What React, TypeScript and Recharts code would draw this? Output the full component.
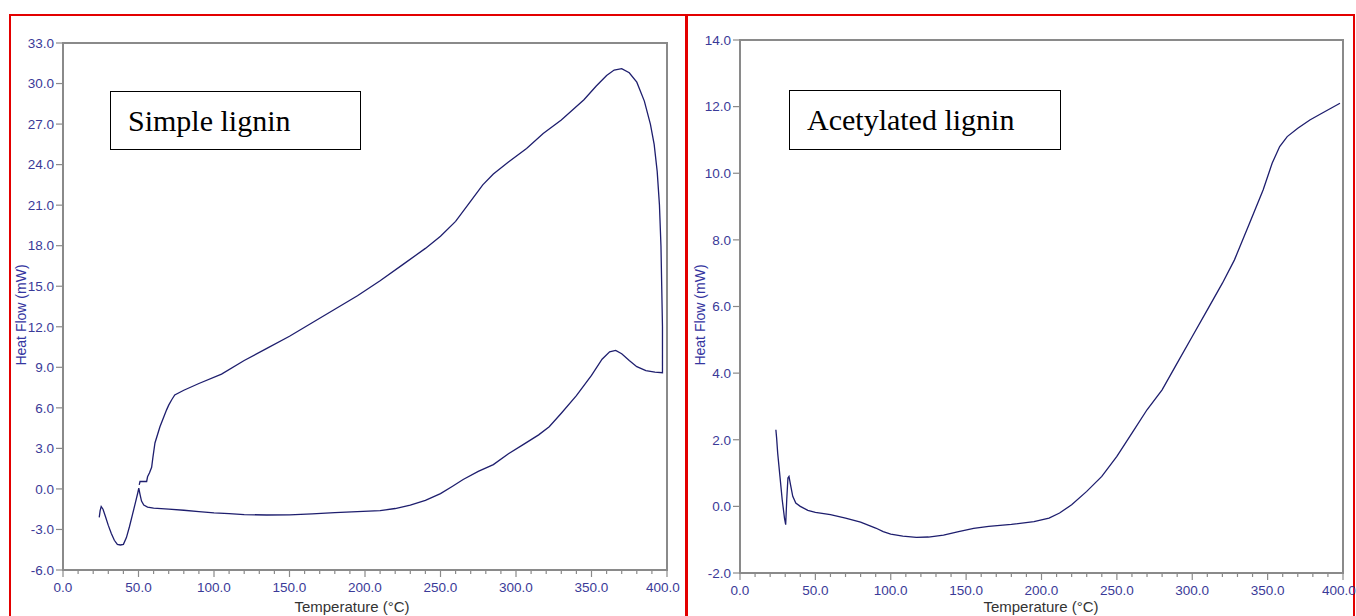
import { LineChart, Line, XAxis, YAxis, ReferenceArea } from 'recharts';

// Simple lignin DSC trace, in recorded order (heating branch, jump, return branch)
const simpleTemp = [
  24.0, 24.6, 25.3, 26.5, 28, 30, 32, 34, 36, 38, 40, 42, 44, 46, 48, 49.5, 50.2,
  51, 52, 53.5, 56, 60, 70, 80, 90, 100, 110, 120, 135, 150, 165, 180, 195, 210, 220, 230, 240, 250,
  258, 265, 275, 285, 295, 305, 315, 322, 330, 340, 350, 357, 362, 366, 370, 375, 380, 386, 392, 397,
  397, 396.5, 396, 395, 393.5, 391.5, 389, 385, 380, 375, 370, 365, 360, 353, 345, 330, 318, 307, 295,
  285, 278, 270, 260, 250, 240, 225, 210, 195, 180, 165, 150, 135, 120, 105, 90, 80, 74, 72, 70, 68.6,
  64.2, 60.9, 59.5, 58.7, 57.3, 56, 55.4, 53, 51, 50.5,
];
const simpleHeat = [
  -2.1, -1.6, -1.3, -1.5, -2.0, -2.7, -3.3, -3.8, -4.1, -4.15, -4.1, -3.6, -2.8, -1.9, -1.0, -0.3, 0.05,
  -0.4, -0.9, -1.2, -1.35, -1.42, -1.5, -1.58, -1.68, -1.77, -1.83, -1.9, -1.93, -1.92, -1.85, -1.75, -1.68, -1.6, -1.45, -1.2, -0.85, -0.35,
  0.2, 0.7, 1.3, 1.8, 2.6, 3.3, 4.0, 4.6, 5.6, 6.9, 8.4, 9.6, 10.15, 10.25, 10.0, 9.5, 9.05, 8.75, 8.65, 8.6,
  12, 15, 18, 21, 23.5, 25.5, 27, 28.7, 30.1, 30.8, 31.1, 31.0, 30.6, 29.8, 28.8, 27.3, 26.3, 25.2, 24.2,
  23.3, 22.5, 21.3, 19.8, 18.7, 17.8, 16.6, 15.4, 14.3, 13.3, 12.3, 11.3, 10.4, 9.5, 8.5, 7.8, 7.3, 6.95, 6.6, 6.2, 5.85,
  4.6, 3.4, 2.3, 1.6, 1.2, 0.9, 0.55, 0.55, 0.55, 0.3,
];

// Acetylated lignin DSC trace
const acetylTemp = [
  23.8, 24.3, 25, 26.5, 28, 29.5, 30.3, 31, 31.8, 32.5, 33.5, 35, 37, 40, 45, 50, 60, 70, 80, 90, 95,
  100, 108, 117, 125, 135, 145, 155, 165, 180, 195, 205, 212, 220, 230, 240, 250, 260, 270, 280, 290,
  300, 310, 320, 328, 338, 347, 353, 358, 363, 370, 378, 386, 392, 398,
];
const acetylHeat = [
  2.3, 2.05, 1.6, 0.9, 0.2, -0.35, -0.55, 0.2, 0.85, 0.9, 0.65, 0.3, 0.1, 0.0, -0.12, -0.18, -0.25, -0.35, -0.47, -0.65, -0.76,
  -0.83, -0.89, -0.93, -0.92, -0.86, -0.76, -0.66, -0.6, -0.54, -0.46, -0.35, -0.2, 0.05, 0.45, 0.9, 1.5, 2.2, 2.9, 3.5, 4.3,
  5.1, 5.9, 6.7, 7.4, 8.5, 9.5, 10.3, 10.8, 11.1, 11.35, 11.6, 11.8, 11.95, 12.1,
];

const xTicks = [
  0, 10, 20, 30, 40, 50, 60, 70, 80, 90, 100, 110, 120, 130, 140, 150, 160, 170, 180, 190, 200,
  210, 220, 230, 240, 250, 260, 270, 280, 290, 300, 310, 320, 330, 340, 350, 360, 370, 380, 390, 400,
];
const simpleYTicks = [-6, -3, 0, 3, 6, 9, 12, 15, 18, 21, 24, 27, 30, 33];
const acetylYTicks = [-2, 0, 2, 4, 6, 8, 10, 12, 14];

const simpleData = simpleTemp.map((t, i) => ({ t, v: simpleHeat[i] }));
const acetylData = acetylTemp.map((t, i) => ({ t, v: acetylHeat[i] }));

const LINE = '#1e1e6e';
const AXIS = '#8a8a8a';
const TICK = '#3a3a98';
const SANS = '"Liberation Sans", Arial, sans-serif';
const SERIF = '"Liberation Serif", "Times New Roman", serif';

function XTick(props: any) {
  const { x, y, payload } = props;
  const major = payload.value % 50 === 0;
  // last label sits right at the panel edge, nudge it in a little
  const dx = payload.value === 400 ? -4 : 0;
  return (
    <g>
      <line x1={x} x2={x} y1={y} y2={y + (major ? 7 : 4)} stroke={AXIS} strokeWidth={1.2} />
      {major && (
        <text x={x + dx} y={y + 22} textAnchor="middle" fill={TICK} fontSize={13.5} fontFamily={SANS}>
          {payload.value.toFixed(1)}
        </text>
      )}
    </g>
  );
}

interface PanelProps {
  data: { t: number; v: number }[];
  yTicks: number[];
  width: number;
  margin: { top: number; right: number; bottom: number; left: number };
}

function DscChart({ data, yTicks, width, margin }: PanelProps) {
  const yMin = yTicks[0];
  const yMax = yTicks[yTicks.length - 1];
  return (
    <LineChart width={width} height={616} margin={margin}>
      <XAxis
        type="number"
        dataKey="t"
        domain={[0, 400]}
        ticks={xTicks}
        interval={0}
        height={30}
        axisLine={false}
        tickLine={false}
        tickSize={0}
        tickMargin={0}
        tick={<XTick />}
      />
      <YAxis
        type="number"
        dataKey="v"
        domain={[yMin, yMax]}
        ticks={yTicks}
        interval={0}
        width={40}
        axisLine={false}
        tickLine={{ stroke: AXIS, strokeWidth: 1.2 }}
        tickSize={7}
        tickMargin={2}
        tickFormatter={(v: number) => v.toFixed(1)}
        tick={{ fontSize: 13.5, fill: TICK, fontFamily: SANS }}
      />
      <ReferenceArea
        x1={0}
        x2={400}
        y1={yMin}
        y2={yMax}
        fill="none"
        fillOpacity={0}
        stroke={AXIS}
        strokeWidth={2}
        ifOverflow="visible"
      />
      <Line
        data={data}
        dataKey="v"
        type="linear"
        stroke={LINE}
        strokeWidth={1.3}
        dot={false}
        isAnimationActive={false}
      />
    </LineChart>
  );
}

const boxStyle: React.CSSProperties = {
  position: 'absolute',
  border: '1.5px solid #000',
  background: '#fff',
  fontFamily: SERIF,
  fontSize: 30,
  color: '#000',
  display: 'flex',
  alignItems: 'center',
  boxSizing: 'border-box',
  paddingLeft: 17,
};

const yLabelStyle: React.CSSProperties = {
  position: 'absolute',
  fontFamily: SANS,
  fontSize: 14,
  color: '#3535a0',
  whiteSpace: 'nowrap',
  transform: 'translate(-50%, -50%) rotate(-90deg)',
};

const xLabelStyle: React.CSSProperties = {
  position: 'absolute',
  fontFamily: SANS,
  fontSize: 15,
  color: '#333',
  whiteSpace: 'nowrap',
  transform: 'translate(-50%, -50%)',
};

export default function App() {
  return (
    <div style={{ position: 'absolute', left: 0, top: 0, width: 1356, height: 616, overflow: 'hidden', background: '#fff' }}>
      {/* red panel frames */}
      <div style={{ position: 'absolute', left: 9, top: 14, width: 678, height: 640, border: '2px solid #e30000', boxSizing: 'border-box' }} />
      <div style={{ position: 'absolute', left: 686, top: 14, width: 669, height: 640, border: '2px solid #e30000', boxSizing: 'border-box' }} />

      <div style={{ position: 'absolute', left: 0, top: 0 }}>
        <DscChart data={simpleData} yTicks={simpleYTicks} width={690} margin={{ top: 43, right: 23, bottom: 16, left: 23 }} />
      </div>
      <div style={{ position: 'absolute', left: 686, top: 0 }}>
        <DscChart data={acetylData} yTicks={acetylYTicks} width={670} margin={{ top: 40, right: 13, bottom: 13, left: 14 }} />
      </div>

      <div style={{ ...yLabelStyle, left: 21, top: 315 }}>Heat Flow (mW)</div>
      <div style={{ ...yLabelStyle, left: 700, top: 315 }}>Heat Flow (mW)</div>
      <div style={{ ...xLabelStyle, left: 352, top: 606 }}>Temperature (°C)</div>
      <div style={{ ...xLabelStyle, left: 1041, top: 606 }}>Temperature (°C)</div>

      <div style={{ ...boxStyle, left: 110, top: 91, width: 251, height: 59 }}>Simple lignin</div>
      <div style={{ ...boxStyle, left: 789, top: 90, width: 272, height: 60 }}>Acetylated lignin</div>
    </div>
  );
}
